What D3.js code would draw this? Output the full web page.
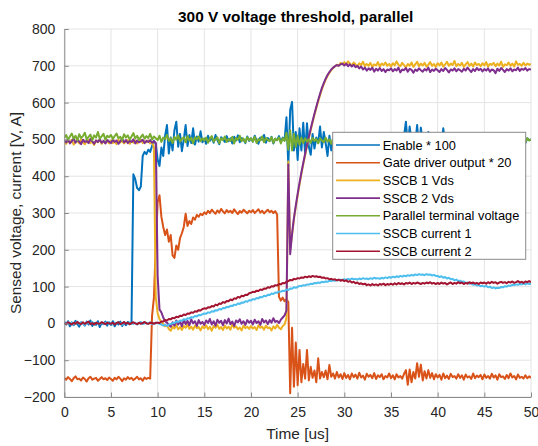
<!DOCTYPE html>
<html>
<head>
<meta charset="utf-8">
<script src="https://cdn.jsdelivr.net/npm/d3@7"></script>
<style>
  body { margin: 0; background: #fff; }
  text { font-family: "Liberation Sans", Arial, Helvetica, sans-serif; }
</style>
</head>
<body>
<svg id="chart" width="538" height="446"></svg>
<script>
// Scope capture, 0..50 us, one sample every 0.2 us
const sampleStep = 0.2;

const enableX100 = [
  4,-3,6,-8,2,-5,7,-2,-9,3,0,-6,5,-3,8,-7,1,-4,6,-10,2,-2,5,-6,3,
  -4,6,-8,1,-3,5,-7,2,-5,4,-2,0,405,392,368,362,372,455,466,460,472,466,482,496,488,
  445,428,478,455,510,539,462,505,470,525,548,480,515,468,500,539,482,512,490,530,486,508,494,522,492,
  502,488,510,496,505,491,512,498,487,506,500,493,509,495,503,489,507,497,511,492,504,499,490,508,496,
  503,494,510,497,488,505,499,512,491,504,496,507,489,502,498,509,493,505,497,560,430,580,602,470,520,
  444,530,470,545,460,544,480,458,515,475,505,490,535,478,520,490,455,510,470,502,495,508,490,504,497,
  501,494,507,489,503,498,510,492,505,496,500,488,506,499,493,509,497,502,490,504,498,511,494,501,496,
  505,492,499,508,490,503,497,510,548,482,535,495,505,488,539,476,532,490,512,496,520,488,506,498,512,
  494,503,485,530,492,508,497,504,490,501,496,509,493,502,498,506,491,503,497,510,494,500,489,505,498,
  503,492,507,496,501,489,505,498,510,493,502,497,506,491,504,499,495,508,494,502,497,505,490,503,498,
  500
];

const gateX20 = [
  -148,-153,-146,-151,-157,-149,-144,-152,-150,-155,-147,-151,-158,-149,-145,-153,-150,-148,-156,-151,-146,-152,-149,-154,-147,
  -151,-156,-148,-152,-145,-150,-157,-149,-153,-146,-151,-148,-154,-150,-145,-152,-149,-156,-147,-151,-148,-150,20,70,210,
  330,348,290,262,240,255,222,240,185,178,212,200,232,245,262,298,265,278,270,288,282,295,290,298,294,
  302,297,306,300,309,303,298,307,301,311,304,299,308,302,306,300,310,303,297,305,301,309,304,299,306,
  302,308,300,305,310,301,306,299,304,309,302,306,300,305,296,72,62,70,60,66,58,-190,-12,-172,-52,
  -168,-72,-160,-110,-150,-72,-155,-118,-148,-128,-160,-95,-150,-132,-146,-128,-152,-113,-145,-136,-150,-132,-147,-138,-151,
  -135,-148,-140,-152,-136,-146,-139,-150,-134,-147,-142,-153,-137,-145,-140,-149,-135,-151,-141,-146,-138,-152,-143,-147,-136,
  -149,-141,-152,-138,-147,-143,-150,-137,-127,-167,-125,-160,-132,-150,-108,-145,-112,-155,-130,-150,-127,-148,-135,-152,-138,
  -147,-140,-153,-136,-149,-142,-151,-137,-146,-143,-150,-138,-148,-141,-153,-139,-147,-144,-151,-136,-149,-142,-146,-140,-152,
  -139,-148,-143,-150,-137,-147,-141,-153,-138,-146,-144,-151,-140,-149,-136,-147,-143,-152,-139,-148,-145,-150,-141,-149,-144,
  -148
];

const sscb1Vds = [
  494,488,497,491,499,486,493,496,489,500,492,487,495,498,490,494,485,497,492,499,488,495,491,496,489,
  497,490,494,487,499,492,496,489,494,498,488,495,491,497,489,494,499,490,495,492,497,489,494,478,70,
  28,12,4,-2,-8,-6,-15,-20,-9,-14,-4,-16,-10,-18,-7,-12,-3,-15,-9,-17,-6,-13,-10,-19,-8,
  -13,-5,-16,-9,-20,-7,-12,-4,-15,-10,-18,-6,-14,-9,-17,-3,-12,-8,-16,-11,-19,-6,-13,-9,-15,
  -7,-14,-10,-18,-5,-12,-9,-17,-6,-13,-11,-19,-8,-14,-4,-12,-16,-7,-3,15,440,200,240,283,316,
  348,378,406,432,457,481,503,525,546,566,585,603,620,636,650,662,672,681,688,694,698,703,700,708,704,
  710,703,712,706,701,709,704,698,707,702,711,699,705,700,708,697,704,701,710,698,706,702,709,700,705,
  698,707,701,712,703,699,708,702,696,705,700,709,697,704,711,699,706,701,708,698,703,710,700,705,697,
  707,701,709,698,704,711,700,706,702,713,699,705,701,708,697,704,710,700,706,698,709,702,705,699,707,
  701,710,698,705,703,708,699,706,701,711,697,704,702,709,700,706,698,712,703,705,700,708,701,706,703,
  705
];

const sscb2Vds = [
  497,492,500,489,495,502,491,498,494,487,499,493,496,490,501,495,488,497,493,500,491,496,489,498,494,
  490,499,493,497,488,495,501,492,498,490,496,493,500,489,497,492,495,499,490,496,493,498,491,495,490,
  130,38,30,16,6,2,-4,-9,3,-6,8,-3,5,-8,10,-2,7,-5,11,0,6,-7,9,-1,4,
  -4,8,1,12,-3,6,-6,10,2,7,-5,9,0,13,-2,5,-7,8,3,11,-1,6,-4,9,2,
  7,-3,10,1,6,-4,12,3,8,-2,9,2,14,4,7,1,10,16,22,35,432,188,243,286,320,
  352,382,410,436,461,485,507,529,550,570,589,607,624,640,653,665,675,683,690,695,699,702,700,704,706,
  701,706,699,704,698,703,696,700,693,698,690,695,687,693,689,695,684,692,687,694,686,691,683,690,688,
  693,685,691,687,695,682,690,688,694,684,692,689,681,690,686,693,688,684,691,687,695,683,690,686,692,
  688,683,691,686,694,689,682,690,687,693,685,691,688,684,692,687,695,689,683,691,686,694,688,692,685,
  691,687,693,684,690,688,680,692,686,694,689,683,691,687,693,685,690,688,695,686,692,689,694,687,691,
  690
];

const parallelTerminal = [
  505,512,499,508,516,502,510,497,514,504,509,518,500,507,513,498,511,505,520,502,508,515,499,510,506,
  512,501,509,516,503,507,498,514,505,511,500,508,517,503,510,499,506,513,502,509,504,515,500,508,503,
  498,510,493,505,501,512,496,503,490,507,499,511,494,502,506,492,509,497,504,489,506,500,508,495,503,
  497,505,491,502,509,494,500,506,490,503,498,508,493,501,496,507,489,504,499,510,495,502,492,506,498,
  503,494,507,490,501,497,508,492,504,499,495,506,491,502,498,505,489,503,496,518,472,525,470,515,480,
  510,485,505,490,503,494,500,491,504,496,501,489,503,497,492,505,494,500,488,502,496,499,491,504,495,
  500,491,504,496,488,502,497,506,492,499,494,503,489,501,497,505,493,498,490,503,496,500,492,506,495,
  499,490,503,495,501,488,505,497,493,502,496,500,491,504,494,498,489,503,497,501,492,506,495,499,490,
  502,496,500,491,505,494,498,489,503,497,501,493,506,495,499,490,502,496,500,492,504,494,498,491,503,
  495,500,490,504,496,499,492,503,497,501,489,505,494,498,493,502,496,500,491,504,495,499,492,503,497,
  500
];

const sscbCurrent1 = [
  2,-2,4,-1,3,-3,1,5,-2,2,0,-4,3,1,-1,4,-3,2,0,-2,3,-1,1,4,-2,
  1,-3,2,0,4,-1,-4,2,1,-2,3,0,-1,2,-3,1,4,-2,0,2,-1,3,-2,1,0,
  2,-1,-3,-6,-4,-7,-3,-2,1,1,5,4,8,7,11,10,14,13,17,16,20,19,23,22,25,
  27,26,30,29,33,32,36,35,39,38,42,41,45,44,48,47,51,50,54,53,57,56,60,59,63,
  62,66,65,69,68,72,71,75,74,78,77,81,80,84,83,87,86,89,88,92,91,95,94,98,97,
  99,102,101,104,103,106,105,108,107,110,109,111,110,113,112,114,113,116,115,117,116,118,117,119,118,
  120,118,121,119,122,120,121,119,122,120,123,121,122,120,123,121,124,122,123,121,124,122,125,123,126,
  124,127,125,128,126,129,127,130,128,131,129,132,130,133,131,134,132,133,131,134,132,133,130,132,129,
  129,126,128,124,126,122,124,120,121,117,119,115,116,113,114,110,111,108,109,105,106,103,104,101,102,
  100,102,98,100,96,98,95,97,96,99,98,101,100,103,102,105,104,106,105,107,106,108,106,109,107,
  108
];

const sscbCurrent2 = [
  1,-2,3,0,-3,2,-1,4,0,-2,3,-1,2,5,-2,1,-3,2,0,-1,3,1,-2,2,0,
  -1,2,-3,1,3,-2,0,4,-1,2,-2,1,3,0,-2,2,-1,1,4,0,-1,2,1,-1,2,
  2,1,5,5,9,8,12,11,15,14,18,17,21,20,24,23,27,26,30,29,33,32,36,35,39,
  41,40,44,43,47,46,51,49,54,53,58,56,61,60,65,63,68,67,72,70,75,74,78,77,82,
  83,86,85,89,88,92,91,95,94,98,97,101,100,104,103,107,106,110,109,113,115,118,117,121,120,
  123,122,125,124,127,125,128,126,129,127,128,126,127,124,125,122,123,120,121,119,120,117,119,116,118,
  115,117,113,115,111,113,109,111,107,109,106,108,104,106,103,107,104,106,103,107,105,108,104,107,105,
  108,105,109,106,110,107,109,106,110,108,111,107,110,108,111,109,107,110,108,111,109,112,108,110,107,
  110,107,111,108,110,106,109,111,107,110,108,112,109,111,107,110,108,112,109,111,108,110,107,111,109,
  111,108,112,109,113,110,112,108,111,113,110,112,109,113,111,114,110,112,115,111,113,110,114,112,115,
  112
];

const seriesLabels = [
  "Enable * 100", "Gate driver output * 20", "SSCB 1 Vds", "SSCB 2 Vds",
  "Parallel terminal voltage", "SSCB current 1", "SSCB current 2"
];
const seriesColors = ["#0072BD", "#D95319", "#EDB120", "#7E2F8E", "#77AC30", "#4DBEEE", "#A2142F"];
const xTickValues = [0, 5, 10, 15, 20, 25, 30, 35, 40, 45, 50];
const yTickValues = [-200, -100, 0, 100, 200, 300, 400, 500, 600, 700, 800];

const chartTitle = "300 V voltage threshold, parallel";
const xTitle = "Time [us]";
const yTitle = "Sensed voltage, current [V, A]";

const series = [enableX100, gateX20, sscb1Vds, sscb2Vds, parallelTerminal, sscbCurrent1, sscbCurrent2]
  .map((values, k) => ({ label: seriesLabels[k], color: seriesColors[k], values }));

// ---- layout ----
const svg = d3.select("#chart");
const plot = { left: 64.3, right: 531, top: 29, bottom: 397 };
const x = d3.scaleLinear().domain([0, 50]).range([plot.left, plot.right]);
const y = d3.scaleLinear().domain([-200, 800]).range([plot.bottom, plot.top]);

svg.append("rect").attr("width", 538).attr("height", 446).attr("fill", "#fff");

// grid
const grid = svg.append("g").attr("stroke", "#e4e4e4").attr("stroke-width", 1);
grid.selectAll(".gx").data(xTickValues).join("line")
  .attr("x1", d => x(d)).attr("x2", d => x(d))
  .attr("y1", plot.top).attr("y2", plot.bottom);
grid.selectAll(".gy").data(yTickValues).join("line")
  .attr("x1", plot.left).attr("x2", plot.right)
  .attr("y1", d => y(d)).attr("y2", d => y(d));

// traces
svg.append("clipPath").attr("id", "plotClip").append("rect")
  .attr("x", plot.left).attr("y", plot.top)
  .attr("width", plot.right - plot.left).attr("height", plot.bottom - plot.top);

const line = d3.line()
  .x((d, i) => x(i * sampleStep))
  .y(d => y(d));

svg.append("g").attr("clip-path", "url(#plotClip)")
  .selectAll("path").data(series).join("path")
  .attr("d", d => line(d.values))
  .attr("fill", "none")
  .attr("stroke", d => d.color)
  .attr("stroke-width", 2)
  .attr("stroke-linejoin", "round");

// axes (ticks point inward)
const tickLen = 4.5;
const axisColor = "#262626";
const xAxis = svg.append("g").attr("transform", `translate(0,${plot.bottom})`)
  .call(d3.axisBottom(x).tickValues(xTickValues).tickSizeInner(-tickLen).tickSizeOuter(0).tickPadding(10));
const yAxis = svg.append("g").attr("transform", `translate(${plot.left},0)`)
  .call(d3.axisLeft(y).tickValues(yTickValues).tickSizeInner(-tickLen).tickSizeOuter(0).tickPadding(9));
[xAxis, yAxis].forEach(a => {
  a.select(".domain").attr("stroke", "#8a8a8a").attr("stroke-width", 1);
  a.selectAll(".tick line").attr("stroke", "#8a8a8a");
  a.selectAll(".tick text").attr("fill", axisColor)
    .style("font-family", "'Liberation Sans', Arial, sans-serif").style("font-size", "14px");
});

// titles
svg.append("text").attr("x", (plot.left + plot.right) / 2 - 2).attr("y", 22)
  .attr("text-anchor", "middle").attr("font-weight", "bold").attr("font-size", 15.4)
  .attr("fill", "#000").text(chartTitle);
svg.append("text").attr("x", (plot.left + plot.right) / 2).attr("y", 439)
  .attr("text-anchor", "middle").attr("font-size", 15.4).attr("fill", axisColor).text(xTitle);
svg.append("text").attr("transform", `translate(21,${(plot.top + plot.bottom) / 2}) rotate(-90)`)
  .attr("text-anchor", "middle").attr("font-size", 15.4).attr("fill", axisColor).text(yTitle);

// legend
const legend = svg.append("g");
const lg = { x: 332.7, y: 132.3, w: 193, h: 127, row: 17.7, first: 145 };
legend.append("rect").attr("x", lg.x).attr("y", lg.y).attr("width", lg.w).attr("height", lg.h)
  .attr("fill", "#fff").attr("stroke", "#8a8a8a").attr("stroke-width", 1);
const rows = legend.selectAll(".row").data(series).join("g")
  .attr("transform", (d, i) => `translate(0,${lg.first + i * lg.row})`);
rows.append("line").attr("x1", 336).attr("x2", 380).attr("y1", 0).attr("y2", 0)
  .attr("stroke", d => d.color).attr("stroke-width", 1.6);
rows.append("text").attr("x", 382.7).attr("y", 4.5).attr("font-size", 12.8)
  .attr("fill", "#000").text(d => d.label);
</script>
</body>
</html>
